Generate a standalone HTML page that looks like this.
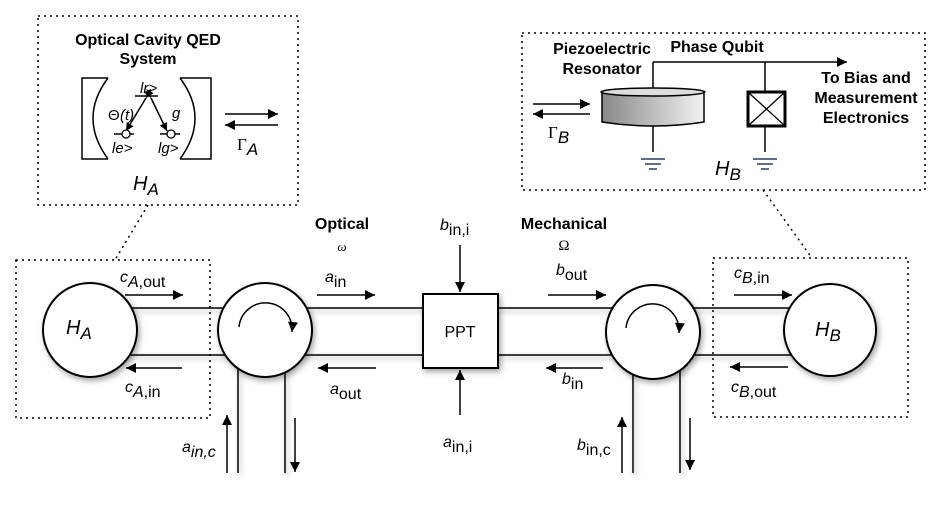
<!DOCTYPE html>
<html><head><meta charset="utf-8"><style>
html,body{margin:0;padding:0;background:#fff;}
svg{display:block;font-family:"Liberation Sans",Arial,sans-serif;}
</style></head><body>
<svg width="938" height="507" viewBox="0 0 938 507" xmlns="http://www.w3.org/2000/svg">
<defs>
<marker id="ah" viewBox="0 0 10 10" refX="10" refY="5" markerWidth="10" markerHeight="8" markerUnits="userSpaceOnUse" orient="auto"><path d="M0,0 L10,5 L0,10 z" fill="#000"/></marker>
<marker id="ahb" viewBox="0 0 10 10" refX="10" refY="5" markerWidth="14" markerHeight="10" markerUnits="userSpaceOnUse" orient="auto"><path d="M0,0 L10,5 L0,10 z" fill="#000"/></marker>
<linearGradient id="cyl" x1="0" x2="1" y1="0" y2="0"><stop offset="0" stop-color="#888"/><stop offset="1" stop-color="#f2f2f2"/></linearGradient>
<filter id="sh" x="-30%" y="-30%" width="160%" height="160%"><feDropShadow dx="2" dy="3" stdDeviation="3" flood-opacity="0.35"/></filter>
</defs>
<g fill="none" stroke="#000" stroke-width="1.5" stroke-dasharray="2,4">
<rect x="38" y="16" width="260" height="189"/>
<rect x="522" y="33" width="403" height="157"/>
<rect x="16" y="260" width="194" height="158"/>
<rect x="713" y="258" width="195" height="159"/>
<line x1="148" y1="205" x2="115" y2="260"/>
<line x1="763" y1="190" x2="812" y2="258"/>
</g>
<g stroke="#000" stroke-width="1.5" filter="url(#sh)">
<line x1="90" y1="308" x2="830" y2="308"/>
<line x1="90" y1="355" x2="830" y2="355"/>
<line x1="238" y1="340" x2="238" y2="473"/>
<line x1="285" y1="340" x2="285" y2="473"/>
<line x1="633" y1="340" x2="633" y2="473"/>
<line x1="680" y1="340" x2="680" y2="473"/>
</g>
<g stroke="#000" stroke-width="2" fill="#fff" filter="url(#sh)">
<circle cx="90" cy="330" r="47"/>
<circle cx="265" cy="330" r="47"/>
<circle cx="653" cy="332" r="47"/>
<circle cx="830" cy="330" r="46"/>
<rect x="423" y="294" width="75" height="74"/>
</g>
<g fill="none" stroke="#000" stroke-width="1.5">
<path d="M239,327 A26,26 0 0 1 292,332" marker-end="url(#ahb)"/>
<path d="M626,328 A26,26 0 0 1 679,333" marker-end="url(#ahb)"/>
</g>
<g stroke="#000" stroke-width="1.5" marker-end="url(#ahb)">
<line x1="125" y1="295" x2="183" y2="295"/>
<line x1="182" y1="368" x2="126" y2="368"/>
<line x1="317" y1="295" x2="375" y2="295"/>
<line x1="376" y1="368" x2="318" y2="368"/>
<line x1="460" y1="245" x2="460" y2="292"/>
<line x1="460" y1="415" x2="460" y2="370"/>
<line x1="548" y1="295" x2="606" y2="295"/>
<line x1="603" y1="368" x2="546" y2="368"/>
<line x1="734" y1="295" x2="792" y2="295"/>
<line x1="788" y1="367" x2="730" y2="367"/>
<line x1="227" y1="473" x2="227" y2="415"/>
<line x1="295" y1="418" x2="295" y2="472"/>
<line x1="622" y1="473" x2="622" y2="417"/>
<line x1="690" y1="418" x2="690" y2="470"/>
<line x1="225" y1="114" x2="278" y2="114"/>
<line x1="278" y1="125" x2="225" y2="125"/>
<line x1="533" y1="104" x2="590" y2="104"/>
<line x1="590" y1="114" x2="533" y2="114"/>
<line x1="653" y1="62" x2="847" y2="62"/>
</g>
<g stroke="#000" stroke-width="1.5" fill="none">
<path d="M108,78 L82,78 L82,159 L108,159"/>
<path d="M108,78 Q78,118 108,159"/>
<path d="M180,78 L211,78 L211,159 L180,159"/>
<path d="M180,78 Q210,118 180,159"/>
<line x1="135" y1="96" x2="158" y2="96"/>
<line x1="114" y1="134" x2="134" y2="134"/>
<line x1="160" y1="134" x2="180" y2="134"/>
<line x1="146" y1="98" x2="126" y2="131" marker-start="url(#ah)" marker-end="url(#ah)"/>
<line x1="151" y1="98" x2="167" y2="131" marker-start="url(#ah)" marker-end="url(#ah)"/>
</g>
<circle cx="126" cy="134" r="4" fill="#fff" stroke="#000" stroke-width="1.3"/>
<circle cx="171" cy="134" r="4" fill="#fff" stroke="#000" stroke-width="1.3"/>
<g stroke="#000" stroke-width="1.5">
<line x1="653" y1="62" x2="653" y2="92"/>
<line x1="765" y1="62" x2="765" y2="92"/>
<line x1="653" y1="124" x2="653" y2="152"/>
<line x1="765" y1="126" x2="765" y2="152"/>
</g>
<path d="M602,92 L602,122 Q653,130 704,122 L704,92 Z" fill="url(#cyl)" stroke="#000" stroke-width="1.5"/>
<ellipse cx="653" cy="92" rx="52" ry="4" fill="#ddd" stroke="#000" stroke-width="1.5"/>
<rect x="748" y="92" width="37" height="34" fill="#fff" stroke="#000" stroke-width="3"/>
<g stroke="#000" stroke-width="1.3"><line x1="749" y1="93" x2="784" y2="125"/><line x1="784" y1="93" x2="749" y2="125"/></g>
<g stroke="#2a3f6a" stroke-width="1.5">
<line x1="641" y1="159" x2="665" y2="159"/><line x1="645" y1="164" x2="661" y2="164"/><line x1="649" y1="169" x2="657" y2="169"/>
<line x1="753" y1="159" x2="777" y2="159"/><line x1="757" y1="164" x2="773" y2="164"/><line x1="761" y1="169" x2="769" y2="169"/>
</g>
<g font-weight="bold" font-size="16" text-anchor="middle">
<text x="148" y="45">Optical Cavity QED</text>
<text x="148" y="64">System</text>
<text x="602" y="54">Piezoelectric</text>
<text x="602" y="74">Resonator</text>
<text x="717" y="52">Phase Qubit</text>
<text x="866" y="83">To Bias and</text>
<text x="866" y="103">Measurement</text>
<text x="866" y="123">Electronics</text>
<text x="342" y="229">Optical</text>
<text x="564" y="229">Mechanical</text>
</g>
<g font-size="15" font-style="italic">
<text x="140" y="93">lr&gt;</text>
<text x="112" y="153">le&gt;</text>
<text x="158" y="153">lg&gt;</text>
<text x="108" y="120" font-style="normal">Θ</text><text x="120" y="120">(t)</text>
<text x="172" y="118">g</text>
</g>
<g font-size="20" font-style="italic">
<text x="133" y="190">H<tspan font-size="17" dy="5">A</tspan></text>
<text x="715" y="175">H<tspan font-size="17" dy="5">B</tspan></text>
<text x="66" y="334">H<tspan font-size="17" dy="5">A</tspan></text>
<text x="815" y="336">H<tspan font-size="17" dy="5">B</tspan></text>
</g>
<text x="237" y="150" font-size="17" font-family="Liberation Serif,serif">Γ<tspan font-family="Liberation Sans,sans-serif" font-style="italic" dy="5">A</tspan></text>
<text x="548" y="138" font-size="17" font-family="Liberation Serif,serif">Γ<tspan font-family="Liberation Sans,sans-serif" font-style="italic" dy="5">B</tspan></text>
<text x="342" y="251" font-size="13" font-family="Liberation Serif,serif" font-style="italic" text-anchor="middle">ω</text>
<text x="564" y="250" font-size="15" font-family="Liberation Serif,serif" text-anchor="middle">Ω</text>
<text x="460" y="337" font-size="16" text-anchor="middle">PPT</text>
<g font-size="16">
<text x="120" y="282"><tspan font-style="italic">c</tspan><tspan dy="5"><tspan font-style="italic">A</tspan>,out</tspan></text>
<text x="125" y="392"><tspan font-style="italic">c</tspan><tspan dy="5"><tspan font-style="italic">A</tspan>,in</tspan></text>
<text x="325" y="282"><tspan font-style="italic">a</tspan><tspan dy="5">in</tspan></text>
<text x="330" y="394"><tspan font-style="italic">a</tspan><tspan dy="5">out</tspan></text>
<text x="440" y="230"><tspan font-style="italic">b</tspan><tspan dy="5">in,i</tspan></text>
<text x="443" y="447"><tspan font-style="italic">a</tspan><tspan dy="5">in,i</tspan></text>
<text x="556" y="275"><tspan font-style="italic">b</tspan><tspan dy="5">out</tspan></text>
<text x="562" y="384"><tspan font-style="italic">b</tspan><tspan dy="5">in</tspan></text>
<text x="734" y="278"><tspan font-style="italic">c</tspan><tspan dy="5"><tspan font-style="italic">B</tspan>,in</tspan></text>
<text x="731" y="392"><tspan font-style="italic">c</tspan><tspan dy="5"><tspan font-style="italic">B</tspan>,out</tspan></text>
<text x="182" y="452"><tspan font-style="italic">a</tspan><tspan dy="5" font-style="italic">in,c</tspan></text>
<text x="577" y="450"><tspan font-style="italic">b</tspan><tspan dy="5">in,c</tspan></text>
</g>
</svg>
</body></html>
